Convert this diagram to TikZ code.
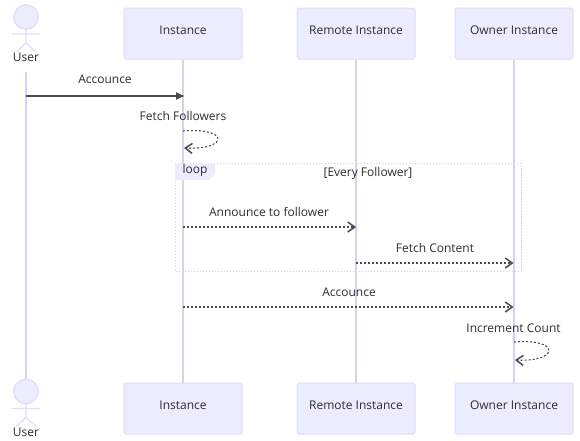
\documentclass[tikz,border=0pt]{standalone}
\usepackage{fontspec}
\setmainfont{Open Sans}
\usetikzlibrary{arrows.meta,positioning,calc}
\definecolor{boxfill}{HTML}{ECECFF}
\definecolor{boxline}{HTML}{E2DCFB}
\definecolor{lifeline}{HTML}{D9CFF6}
\definecolor{msgcol}{HTML}{2E2E2E}
\definecolor{dotcol}{HTML}{4A4A4A}
\tikzset{
  actorbox/.style={rounded corners=1.5pt, fill=boxfill, draw=boxline, line width=1pt, minimum width=118pt, minimum height=51pt, text height=9pt, text depth=8pt, inner sep=0pt, text=msgcol},
  msglabel/.style={text=msgcol, inner sep=0pt},
  lifelinestyle/.style={draw=lifeline, line width=1.3pt},
  solidmsg/.style={draw=dotcol, line width=1.4pt, -{Latex[length=9pt,width=8pt]}},
  dottedmsg/.style={draw=dotcol, line width=1.1pt, dash pattern=on 2pt off 2pt, -{Straight Barb[length=7pt,width=10pt,line width=1.5pt]}},
  stickman/.pic={
    \draw[draw=boxline, line width=1.2pt, fill=boxfill] (0,0) circle (12.3pt);
    \draw[draw=boxline, line width=1.2pt] (0,12.3) -- (0,26) (-14,17) -- (14,17) (0,26) -- (-12,37) (0,26) -- (12,37);
  }
}
\begin{document}
\begin{tikzpicture}[x=1pt, y=-1pt, font=\fontsize{12}{14}\selectfont]
    \useasboundingbox (0,0) rectangle (580,440);
    \fill[white] (0,0) rectangle (580,440);
    % lifelines
    \coordinate (usrtop) at (26, 72);
    \coordinate (usrbot) at (26, 379);
    \node[actorbox] (inst) at (183, 33.5) {Instance};
    \node[actorbox] (rem) at (356, 33.5) {Remote Instance};
    \node[actorbox] (own) at (514, 33.5) {Owner Instance};
    \node[actorbox] (instb) at (183, 408.5) {Instance};
    \node[actorbox] (remb) at (356, 408.5) {Remote Instance};
    \node[actorbox] (ownb) at (514, 408.5) {Owner Instance};
    \draw[lifelinestyle] (usrtop) -- (usrbot);
    \draw[lifelinestyle] (inst) -- (instb);
    \draw[lifelinestyle] (rem) -- (remb);
    \draw[lifelinestyle] (own) -- (ownb);
    % actors
    \pic at (26, 17) {stickman};
    \pic at (26, 391.5) {stickman};
    \node[msglabel, fill=white, inner sep=0.5pt] (usr) at (26, 57) {User};
    \node[msglabel, fill=white, inner sep=0.5pt] (usrb) at (26, 432) {User};
    % loop frame
    \draw[draw=lifeline, line width=1pt, dash pattern=on 1.5pt off 1.5pt] (175, 163.5) rectangle (521, 271);
    \fill[boxfill] (175, 163.5) -- (215, 163.5) -- (215, 174) -- (209, 180) -- (175, 180) -- cycle;
    \node[msglabel] (looplab) at (195, 170) {loop};
    \node[msglabel] (cond) at (368, 173.5) {[Every Follower]};
    % messages
    \coordinate (a1) at (26, 96);
    \coordinate (a2) at (185, 96);
    \draw[solidmsg] (a1) -- (a2);
    \node[msglabel] (m1) at (105, 79.5) {Accounce};
    \node[msglabel] (m2) at (183, 116) {Fetch Followers};
    \coordinate (b1) at (183, 131);
    \coordinate (b2) at (184, 148);
    \draw[dottedmsg] (b1) .. controls (229, 127) and (229, 150) .. (b2);
    \coordinate (c1) at (183, 227);
    \coordinate (c2) at (356, 227);
    \draw[dottedmsg] (c1) -- (c2);
    \node[msglabel] (m3) at (269, 211.5) {Announce to follower};
    \coordinate (d1) at (356, 263);
    \coordinate (d2) at (513.5, 263);
    \draw[dottedmsg] (d1) -- (d2);
    \node[msglabel] (m4) at (435, 247.5) {Fetch Content};
    \coordinate (e1) at (183, 307);
    \coordinate (e2) at (513.5, 307);
    \draw[dottedmsg] (e1) -- (e2);
    \node[msglabel] (m5) at (349, 292) {Accounce};
    \node[msglabel] (m6) at (513.5, 328) {Increment Count};
    \coordinate (f1) at (514, 342);
    \coordinate (f2) at (515, 360);
    \draw[dottedmsg] (f1) .. controls (560, 338) and (560, 362) .. (f2);
  \end{tikzpicture}
\end{document}
